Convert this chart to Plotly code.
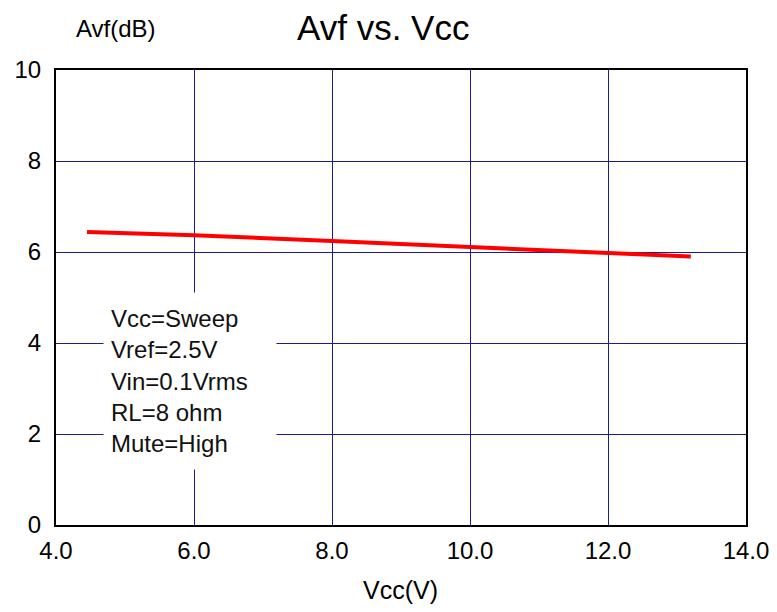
import plotly.graph_objects as go

vcc = [4.45, 6.0, 8.0, 10.0, 12.0, 13.2]
avf = [6.44, 6.37, 6.24, 6.11, 6.00, 5.90]

x_ticks = [4, 6, 8, 10, 12, 14]
y_ticks = [0, 2, 4, 6, 8, 10]
cond_lines = ["Vcc=Sweep", "Vref=2.5V", "Vin=0.1Vrms", "RL=8 ohm", "Mute=High"]

FONT = "Liberation Sans, Arial, sans-serif"
GRID = "#1c1c8e"

fig = go.Figure()
fig.add_trace(go.Scatter(x=vcc, y=avf, mode="lines",
                         line=dict(color="#ff0000", width=4),
                         showlegend=False, hoverinfo="skip"))

fig.update_xaxes(range=[4, 14], tickvals=x_ticks, tickformat=".1f",
                 showgrid=True, gridcolor=GRID, gridwidth=1,
                 showline=True, linecolor="black", linewidth=2, mirror=True,
                 ticks="", zeroline=False, ticklabelstandoff=3, automargin=False,
                 tickfont=dict(family=FONT, size=24, color="black"))
fig.update_yaxes(range=[0, 10], tickvals=y_ticks,
                 showgrid=True, gridcolor=GRID, gridwidth=1,
                 showline=True, linecolor="black", linewidth=2, mirror=True,
                 ticks="", zeroline=False, ticklabelstandoff=8, automargin=False,
                 tickfont=dict(family=FONT, size=24, color="black"))

fig.add_annotation(text="<br>".join(cond_lines), xref="paper", yref="paper",
                   x=0.0681, y=0.512, xanchor="left", yanchor="top",
                   align="left", valign="middle", showarrow=False,
                   bgcolor="white", borderpad=7, width=158, height=162,
                   font=dict(family=FONT, size=24, color="#111111"))

fig.add_annotation(text="Avf vs. Vcc", xref="paper", yref="paper",
                   x=0.474, y=1.0945, xanchor="center", yanchor="middle",
                   showarrow=False, font=dict(family=FONT, size=35, color="black"))
fig.add_annotation(text="Avf(dB)", xref="paper", yref="paper",
                   x=0.087, y=1.092, xanchor="center", yanchor="middle",
                   showarrow=False, font=dict(family=FONT, size=24, color="black"))
fig.add_annotation(text="Vcc(V)", xref="paper", yref="paper",
                   x=0.4986, y=-0.143, xanchor="center", yanchor="middle",
                   showarrow=False, font=dict(family=FONT, size=25, color="black"))

fig.update_layout(width=769, height=604,
                  margin=dict(l=48, r=31, t=62, b=87),
                  paper_bgcolor="white", plot_bgcolor="white",
                  font=dict(family=FONT, color="black"))

fig.write_html("out.html")
